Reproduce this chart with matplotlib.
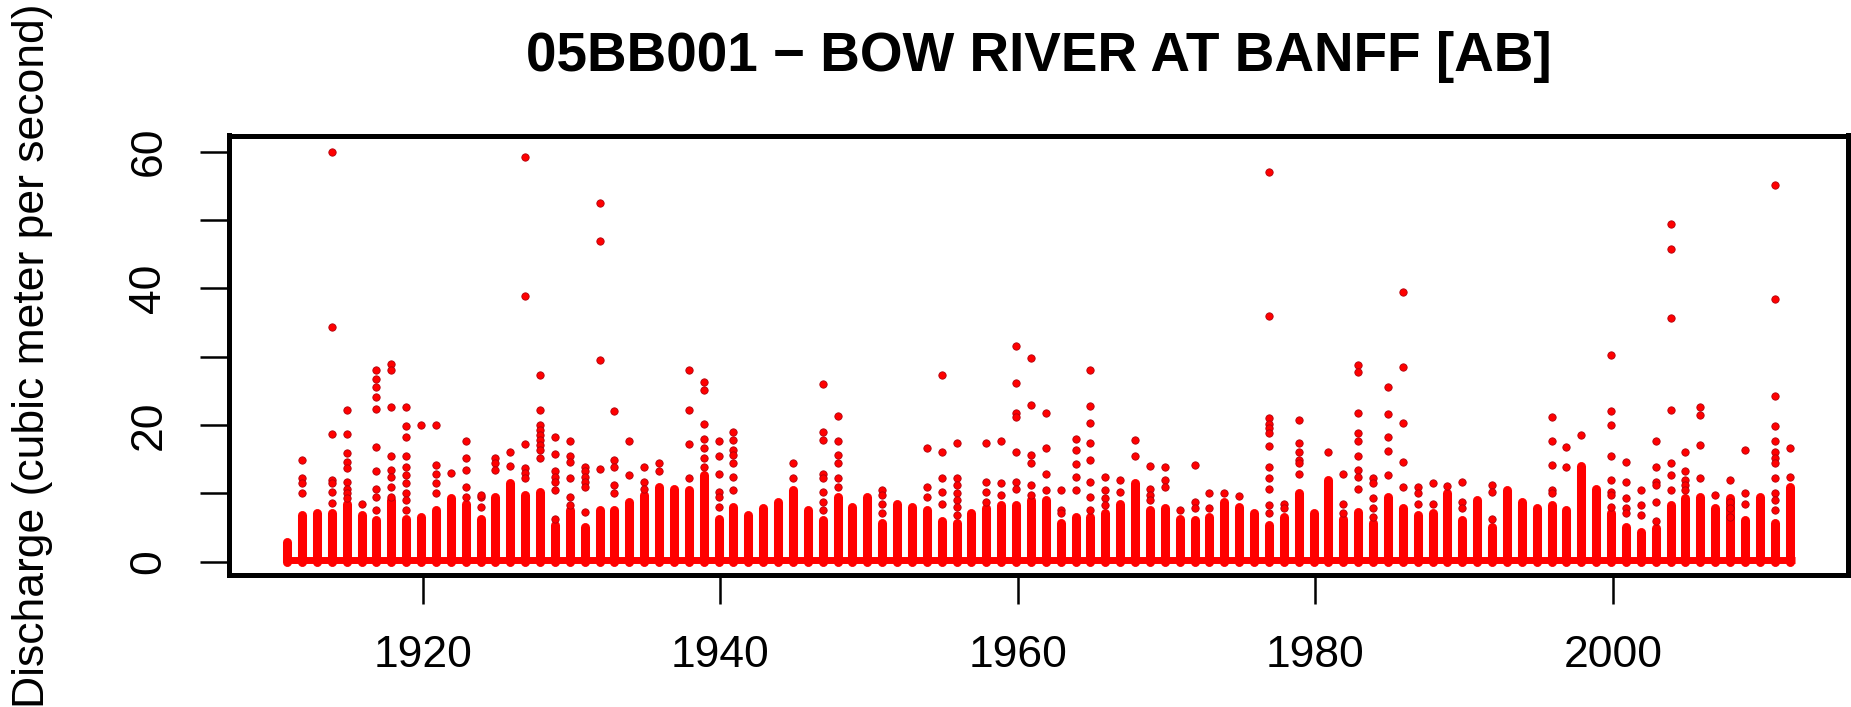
import matplotlib
matplotlib.use("Agg")
import matplotlib.pyplot as plt

plt.rcParams["font.family"] = ["Liberation Sans", "DejaVu Sans"]

title = "05BB001 \u2212 BOW RIVER AT BANFF [AB]"
y_label = "Discharge (cubic meter per second)"

# one column of daily values per year, the high-flow column sits late in each year
years = list(range(1910, 2012))
peak_offset = 0.87
record_start = 1910.7
record_end = 2012.25
base_flow = 0.25

# top of the dense (near-continuous) part of each year's column
dense_top = [
    2.9, 6.8, 7.1, 7.1, 8.5, 6.8, 6.1, 9.0, 6.3, 6.6,  # 1910-1919
    7.6, 9.3, 8.5, 6.3, 9.5, 11.5, 9.8, 10.2, 5.4, 7.6,  # 1920-1929
    5.1, 7.6, 7.6, 8.8, 9.8, 11.0, 10.7, 10.5, 12.7, 6.3,  # 1930-1939
    8.0, 6.8, 7.8, 8.8, 10.5, 7.6, 6.1, 9.5, 8.0, 9.5,  # 1940-1949
    5.6, 8.5, 8.0, 7.6, 5.9, 5.6, 7.1, 7.8, 8.3, 8.3,  # 1950-1959
    9.0, 9.0, 5.6, 6.6, 6.5, 7.1, 8.5, 11.5, 7.6, 7.8,  # 1960-1969
    6.3, 6.1, 6.6, 8.8, 8.0, 7.1, 5.4, 6.6, 10.0, 7.1,  # 1970-1979
    12.0, 6.3, 7.3, 5.6, 9.5, 7.8, 6.8, 7.1, 10.0, 6.1,  # 1980-1989
    9.0, 5.1, 10.5, 8.8, 7.8, 8.3, 7.6, 14.0, 10.7, 7.1,  # 1990-1999
    5.1, 4.4, 4.9, 8.3, 9.3, 9.5, 7.8, 9.3, 6.1, 9.5,  # 2000-2009
    5.6, 11.0,  # 2010-2011
]

# isolated daily values standing above the dense part, per year
high_flows = [
    [], [14.9, 12.2, 11.5, 10.1], [], [59.9, 34.4, 18.7, 12.0, 11.5, 10.2, 8.6],
    [22.2, 18.7, 15.9, 14.6, 13.7, 11.7, 10.7, 10.0, 9.3], [8.4],
    [28.1, 26.8, 25.6, 24.1, 22.4, 16.8, 13.2, 10.7, 9.5, 7.6],
    [29.0, 28.1, 22.6, 15.5, 13.4, 12.4, 11.0, 9.5],
    [22.7, 19.8, 18.3, 15.4, 13.9, 12.7, 11.5, 10.0, 9.0, 7.6], [20.0],
    # 1920s
    [20.0, 14.1, 12.9, 11.5, 10.0], [13.0], [17.6, 15.1, 13.4, 11.0, 9.5],
    [9.5, 9.8, 8.0], [15.1, 14.4, 13.4], [16.1, 14.0],
    [59.2, 38.9, 17.2, 13.7, 13.0, 12.2],
    [27.3, 22.2, 20.0, 19.3, 18.5, 17.8, 17.1, 16.3, 15.1],
    [18.3, 15.8, 13.2, 12.4, 11.7, 10.5, 6.3], [17.6, 15.4, 14.6, 12.2, 9.5, 8.3],
    # 1930s
    [13.9, 13.2, 12.4, 11.7, 11.0, 7.3], [52.5, 47.0, 29.5, 13.5],
    [22.0, 14.9, 13.9, 11.2, 10.0], [17.6, 12.7], [13.8, 11.7, 10.7], [14.4, 13.2],
    [], [28.1, 22.2, 17.2, 12.3], [26.3, 25.1, 20.1, 18.0, 16.6, 15.1, 13.9],
    [17.6, 15.4, 12.9, 10.2, 9.5, 8.0],
    # 1940s
    [19.0, 17.8, 16.3, 15.6, 14.4, 12.4, 10.5], [], [], [], [14.5, 12.3], [],
    [26.0, 19.0, 17.8, 12.9, 12.2, 10.2, 8.8, 7.6], [21.3, 17.6, 15.6, 14.4, 12.2, 11.0],
    [], [],
    # 1950s
    [10.5, 9.8, 8.5, 7.1], [], [], [16.6, 10.9, 9.5], [27.3, 16.1, 12.2, 10.2, 8.5],
    [17.4, 12.2, 11.2, 10.0, 9.0, 8.0, 6.8], [], [17.4, 11.7, 10.2, 8.8],
    [17.6, 11.5, 9.8], [31.6, 26.2, 21.7, 21.2, 16.1, 11.7, 10.7],
    # 1960s
    [29.8, 22.9, 15.6, 14.4, 11.2, 9.8], [21.8, 16.7, 12.9, 10.5], [10.5, 7.6, 7.1],
    [18.0, 16.4, 14.3, 12.4, 10.5], [28.0, 22.8, 20.3, 17.3, 14.9, 11.7, 9.5, 7.6],
    [12.4, 10.5, 9.3, 8.3], [12.0, 10.2], [17.8, 15.5], [14.0, 10.7, 9.8, 9.0],
    [13.9, 11.9, 11.0],
    # 1970s
    [7.6], [14.1, 8.8, 7.8], [10.0, 7.8], [10.0], [9.6], [],
    [57.1, 36.0, 21.0, 20.2, 19.5, 18.9, 16.9, 13.9, 12.2, 10.7, 8.3, 7.1],
    [8.5, 7.8], [20.8, 17.3, 16.1, 14.9, 14.4, 12.9], [],
    # 1980s
    [16.1], [12.9, 8.5, 7.1], [28.8, 27.8, 21.8, 18.8, 17.6, 15.5, 13.4, 12.4, 10.7],
    [12.2, 11.5, 9.3, 7.8, 6.6], [25.6, 21.6, 18.2, 16.2, 12.7],
    [39.4, 28.5, 20.3, 14.6, 11.0], [11.0, 10.0, 8.5], [11.5, 8.5], [11.1],
    [11.6, 8.8, 7.8],
    # 1990s
    [], [11.2, 10.2, 6.3], [], [], [], [21.1, 17.7, 14.1, 10.5, 10.0], [16.8, 13.9],
    [18.6], [], [30.3, 22.0, 20.0, 15.5, 11.9, 10.2, 9.8, 8.0],
    # 2000s
    [14.6, 11.7, 9.3, 7.8, 7.1], [10.5, 8.3, 6.8], [17.6, 13.9, 11.7, 11.2, 8.8, 5.9],
    [49.4, 45.7, 35.6, 22.2, 14.4, 12.7, 10.5], [16.1, 13.2, 12.0, 11.2, 10.5],
    [22.7, 21.5, 17.1, 12.2], [9.8], [12.0, 8.8, 7.8, 6.6], [16.4, 10.0, 8.5], [],
    # 2010s
    [55.1, 38.4, 24.2, 19.9, 17.6, 16.1, 15.1, 14.4, 12.2, 10.0, 9.0, 7.6], [16.7, 12.4],
]

col_x = [y + peak_offset for y in years]
dot_x = [x for x, vals in zip(col_x, high_flows) for _ in vals]
dot_y = [v for vals in high_flows for v in vals]

fig = plt.figure(figsize=(18.51, 7.07), dpi=100)
ax = fig.add_axes([229 / 1851, 1 - 575 / 707, 1619 / 1851, 439.5 / 707])

red = "#ff0000"
ax.hlines(base_flow, record_start, record_end, color=red, lw=5)
ax.vlines(col_x, 0, dense_top, color=red, lw=6.5, capstyle="round")
ax.scatter(dot_x, dot_y, s=28, color=red, edgecolors="#b0000c", linewidths=0.6, zorder=3)

ax.set_xlim(1906.96, 2015.8)
ax.set_ylim(-1.95, 62.37)

ax.set_xticks([1920, 1940, 1960, 1980, 2000])
ax.set_yticks(range(0, 61, 10))
ax.set_yticklabels(["0", "", "20", "", "40", "", "60"], rotation=90, va="center")
ax.tick_params(axis="both", length=21, width=1.8, labelsize=32, pad=22, direction="out")

for spine in ax.spines.values():
    spine.set_linewidth(3.6)

fig.text(1038.5 / 1851, 1 - 57 / 707, title, ha="center", va="center",
         fontsize=39.5, fontweight="bold")
fig.text(33 / 1851, 1 - 355.25 / 707, y_label, rotation=90, ha="center", va="center",
         fontsize=32)

fig.savefig("out.png", dpi=100)
